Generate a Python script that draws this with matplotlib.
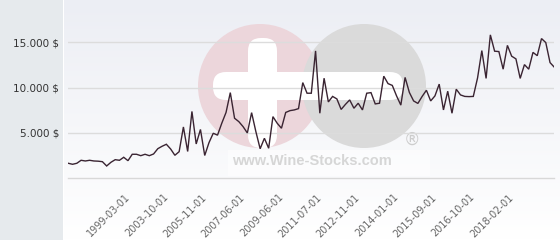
import matplotlib
matplotlib.use('Agg')
import matplotlib.pyplot as plt
import numpy as np
from matplotlib.patches import Circle, FancyBboxPatch, Rectangle
from matplotlib.colors import to_rgb
from matplotlib.ticker import FuncFormatter

# ---- data ----
values = [1656, 1546, 1656, 1987, 1910, 1987, 1910, 1888, 1833, 1358,
          1766, 2053, 1987, 2318, 1943, 2650, 2650, 2495, 2650, 2495,
          2683, 3268, 3533, 3754, 3235, 2539, 2937, 5664, 2959, 7375,
          3787, 5388, 2517, 3930, 4968, 4758, 6072, 7264, 9450, 6624,
          6249, 5697, 5001, 7242, 5145, 3257, 4416, 3312, 6801, 6072,
          5520, 7264, 7463, 7540, 7684, 10554, 9384, 9384, 14054, 7176,
          11040, 8424, 9031, 8755, 7596, 8148, 8644, 7728, 8280, 7540,
          9384, 9450, 8203, 8280, 11261, 10444, 10245, 9086, 8070, 11128,
          9472, 8534, 8258, 9031, 9715, 8534, 9086, 10389, 7540, 9605,
          7176, 9826, 9196, 9031, 9009, 9031, 11073, 14087, 11018, 15820,
          14021, 13977, 12034, 14661, 13469, 13171, 11018, 12541, 12034, 13888,
          13524, 15412, 14970, 12762, 12254]
tick_labels = ['1999-03-01', '2003-10-01', '2005-11-01', '2007-06-01',
               '2009-06-01', '2011-07-01', '2012-11-01', '2014-01-01',
               '2015-09-01', '2016-10-01', '2018-02-01']
tick_start = 14
tick_step = 9
y_ticks = [5000, 10000, 15000]
y_max = 17500

W, H = 560, 240
fig = plt.figure(figsize=(W / 100, H / 100), dpi=100)
fig.patch.set_facecolor('#e6eaed')

# background gradient of the plot panel
bg = fig.add_axes([63 / W, 0, (W - 63) / W, 1], zorder=0)
g = np.linspace(0, 1, 240)[:, None, None]
top = np.array(to_rgb('#eceef4'))
bot = np.array(to_rgb('#ffffff'))
img = top * (1 - g) + bot * g
bg.imshow(img, aspect='auto', extent=(0, 1, 0, 1))
bg.axis('off')

# watermark layer in pixel coordinates
wm = fig.add_axes([0, 0, 1, 1], zorder=1)
wm.set_xlim(0, W)
wm.set_ylim(H, 0)
wm.axis('off')
wm.patch.set_alpha(0)
wm.add_patch(Rectangle((63, 0), 1.2, H, color='white', lw=0))
wm.add_patch(Circle((260, 86), 62, color='#ecd6db', lw=0))
wm.add_patch(Circle((364, 86), 62, color='#dadada', lw=0))
wm.add_patch(FancyBboxPatch((248, 38), 29, 110, boxstyle='round,pad=0,rounding_size=13',
                            color='white', lw=0))
wm.add_patch(FancyBboxPatch((213, 72), 190, 28, boxstyle='round,pad=0,rounding_size=13',
                            color='white', lw=0))
wm.add_patch(Rectangle((228, 150), 202, 26, color='white', alpha=0.55, lw=0))
wm.text(312, 161, 'www.Wine-Stocks.com', ha='center', va='center',
        fontsize=10.5, fontweight='bold', color='#d6d6d6', family='Liberation Sans')
wm.text(412, 140, '®', ha='center', va='center', fontsize=12,
        color='#cdcdcd', family='DejaVu Sans')

# main chart
x0, x1 = 68.3, 554.3
y0 = 178.3
ytop = y0 - y_max * 136 / 15000
ax = fig.add_axes([x0 / W, (H - y0) / H, (x1 - x0) / W, (y0 - ytop) / H], zorder=2)
ax.patch.set_alpha(0)
xs = np.arange(len(values))
ax.plot(xs, values, color='#3a2432', lw=1.0, solid_joinstyle='miter')
ax.set_xlim(0, len(values) - 1)
ax.set_ylim(0, y_max)
ax.set_yticks(y_ticks)
ax.yaxis.set_major_formatter(FuncFormatter(lambda v, p: f"{int(v):,}".replace(',', '.') + ' $'))
ax.yaxis.grid(True, color='#dcdcdc', lw=1)
ax.set_axisbelow(True)
for s in ['top', 'right', 'left']:
    ax.spines[s].set_visible(False)
ax.spines['bottom'].set_color('#d8d8d8')
ax.spines['bottom'].set_linewidth(1)
ax.tick_params(axis='y', length=0, pad=6.5, labelsize=7.5, labelcolor='#333333')
ax.tick_params(axis='x', length=0, pad=12.5, labelsize=7, labelcolor='#666666')
ticks = [tick_start + tick_step * k for k in range(len(tick_labels))]
ax.set_xticks(ticks)
ax.set_xticklabels(tick_labels, rotation=45, ha='right', va='center', rotation_mode='anchor')

fig.savefig('out.png', dpi=100)
